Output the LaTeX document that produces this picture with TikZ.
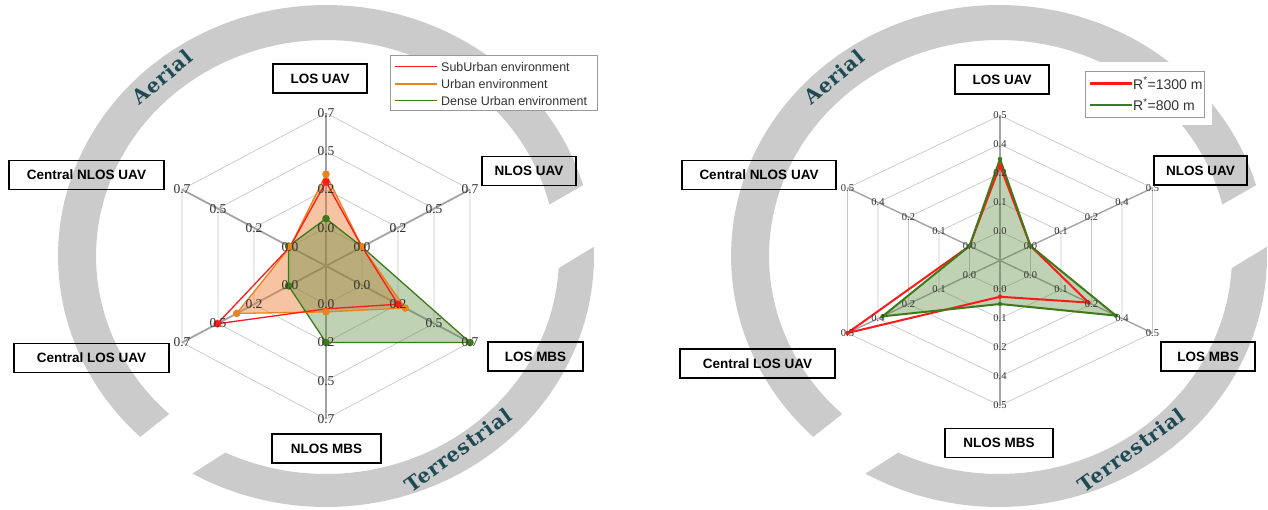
\documentclass[tikz,border=0pt]{standalone}
\usepackage{fontspec}
\setmainfont{Liberation Serif}
\setsansfont{Liberation Sans}
\newfontfamily\decofont[LetterSpace=4]{DejaVu Serif}
\definecolor{ringgray}{HTML}{CBCBCB}
\definecolor{tealtxt}{HTML}{1D4A55}
\definecolor{gridc}{HTML}{C8C8C8}
\definecolor{spokec}{HTML}{A3A3A3}
\definecolor{sred}{HTML}{FF1A1A}
\definecolor{sorange}{HTML}{E8841E}
\definecolor{sgreen}{HTML}{3F7A1A}
\definecolor{forange}{HTML}{ED7D31}
\definecolor{fgreen}{HTML}{5A8A3A}
\definecolor{ticktext}{HTML}{333333}
\tikzset{
  axisbox/.style={draw=black, line width=1.7pt, font=\sffamily\bfseries\fontsize{13.5}{16}\selectfont, inner sep=0pt, minimum height=29pt},
  gridline/.style={draw=gridc, line width=0.7pt},
  spoke/.style={draw=spokec, line width=1.8pt},
  tickL/.style={font=\fontsize{13.5}{15}\selectfont, text=ticktext, inner sep=0pt},
  tickR/.style={font=\fontsize{10.5}{12}\selectfont, text=ticktext, inner sep=0pt},
  ringname/.style={font=\decofont\bfseries\fontsize{20}{24}\selectfont, text=tealtxt, inner sep=0pt},
  legtext/.style={font=\sffamily\fontsize{12.5}{15}\selectfont, text=black!80, anchor=west, inner sep=0pt},
  legbox/.style={draw=black!40, line width=0.8pt, fill=white, inner sep=0pt},
}
\newcommand\ringpair[1]{%
  \fill[ringgray] plot[domain=16.4:226.1, samples=90] ({#1+268*cos(\x)},{256-251*sin(\x)})
     -- plot[domain=227:13.8, samples=90] ({#1+230*cos(\x)},{256-216*sin(\x)}) -- cycle;
  \fill[ringgray] plot[domain=240.1:362.1, samples=60] ({#1+268*cos(\x)},{256-251*sin(\x)})
     -- plot[domain=356.8:244.4, samples=60] ({#1+233*cos(\x)},{256-218*sin(\x)}) -- cycle;
}
\begin{document}
\begin{tikzpicture}[x={(1pt,0pt)}, y={(0pt,-1pt)}]
\useasboundingbox (0,0) rectangle (1268,510);
\fill[white] (0,0) rectangle (1268,510);

% ---------- rings ----------
\ringpair{326}
\ringpair{999}

% ---------- left radar ----------
\begin{scope}[shift={(326,266)}, x={(166.3pt,0pt)}, y={(0pt,153pt)}]
  \coordinate (Lc) at (0,0);
  \foreach \a in {90,30,-30,-90,-150,150} \coordinate (Le\a) at (\a:1);
  \foreach \f in {0.25,0.5,0.75,1}
    \draw[gridline] (90:\f) -- (30:\f) -- (-30:\f) -- (-90:\f) -- (-150:\f) -- (150:\f) -- cycle;
  \foreach \a in {90,30,-30,-90,-150,150} \draw[spoke] (Lc) -- (Le\a);
  % fills
  \fill[forange, fill opacity=.45] (90:.60) -- (30:.25) -- (-30:.55) -- (-90:.30) -- (-150:.62) -- (150:.25) -- cycle;
  \fill[fgreen, fill opacity=.38] (90:.31) -- (30:.25) -- (-30:1) -- (-90:.50) -- (-150:.26) -- (150:.26) -- cycle;
  % lines
  \draw[sgreen, line width=1.3pt, line join=round] (90:.31) -- (30:.25) -- (-30:1) -- (-90:.50) -- (-150:.26) -- (150:.26) -- cycle;
  \draw[sorange, line width=1.3pt, line join=round] (90:.60) -- (30:.25) -- (-30:.55) -- (-90:.30) -- (-150:.62) -- (150:.25) -- cycle;
  \draw[sred, line width=1.3pt, line join=round] (90:.55) -- (30:.25) -- (-30:.50) -- (-90:.28) -- (-150:.755) -- (150:.25) -- cycle;
  % markers
  \foreach \p in {90:.31, 30:.25, -30:1, -90:.50, -150:.26, 150:.26} \fill[sgreen] (\p) circle (3.8pt);
  \foreach \p in {90:.60, 30:.25, -30:.55, -90:.30, -150:.62, 150:.25} \fill[sorange] (\p) circle (3.8pt);
  \foreach \p in {90:.55, -30:.50, -150:.755} \fill[sred] (\p) circle (3.8pt);
  % tick labels
  \foreach \a in {90,30,-30,-90,-150,150}
    \foreach \f/\t [count=\i] in {0.25/0.0, 0.5/0.2, 0.75/0.5, 1/0.7}
      \node[tickL] (tL\a-\i) at (\a:\f) {\t};
\end{scope}

% ---------- right radar ----------
\begin{scope}[shift={(1000,260.5)}, x={(176.1pt,0pt)}, y={(0pt,145pt)}]
  \coordinate (Rc) at (0,0);
  \foreach \a in {90,30,-30,-90,-150,150} \coordinate (Re\a) at (\a:1);
  \foreach \f in {0.2,0.4,0.6,0.8,1}
    \draw[gridline] (90:\f) -- (30:\f) -- (-30:\f) -- (-90:\f) -- (-150:\f) -- (150:\f) -- cycle;
  \foreach \a in {90,30,-30,-90,-150,150} \draw[spoke, line width=1.4pt] (Rc) -- (Re\a);
  \fill[fgreen, fill opacity=.38] (90:.70) -- (30:.2) -- (-30:.76) -- (-90:.30) -- (-150:.77) -- (150:.2) -- cycle;
  \draw[sred, line width=2pt, line join=round] (90:.655) -- (30:.2) -- (-30:.58) -- (-90:.25) -- (-150:1) -- (150:.2) -- cycle;
  \draw[sgreen, line width=2pt, line join=round] (90:.70) -- (30:.2) -- (-30:.76) -- (-90:.30) -- (-150:.77) -- (150:.2) -- cycle;
  \foreach \p in {90:.655, -30:.58, -90:.25, -150:1} \fill[sred] (\p) circle (2.2pt);
  \foreach \p in {90:.70, 30:.2, -30:.76, -90:.30, -150:.77, 150:.2} \fill[sgreen] (\p) circle (2.2pt);
  \foreach \a in {90,30,-30,-90,-150,150}
    \foreach \f/\t [count=\i] in {0.2/0.0, 0.4/0.1, 0.6/0.2, 0.8/0.4, 1/0.5}
      \node[tickR] (tR\a-\i) at (\a:\f) {\t};
\end{scope}

% ---------- ring names ----------
\node[ringname, rotate=40] (Laerial) at (162,77) {Aerial};
\node[ringname, rotate=36] (Lterr) at (458,450) {Terrestrial};
\node[ringname, rotate=40] (Raerial) at (834,77) {Aerial};
\node[ringname, rotate=36] (Rterr) at (1131,450) {Terrestrial};

% ---------- axis boxes left ----------
\node[axisbox, minimum width=94pt] (LlosUAV) at (320,78.5) {LOS UAV};
\node[axisbox, minimum width=94pt] (LnlosUAV) at (529,171) {NLOS UAV};
\node[axisbox, minimum width=155pt] (LcnlosUAV) at (86.5,175) {Central NLOS UAV};
\node[axisbox, minimum width=155pt] (LclosUAV) at (91.5,358) {Central LOS UAV};
\node[axisbox, minimum width=95pt] (LlosMBS) at (535.5,356.5) {LOS MBS};
\node[axisbox, minimum width=109pt] (LnlosMBS) at (326.5,448.5) {NLOS MBS};

% ---------- axis boxes right ----------
\node[axisbox, minimum width=94pt] (RlosUAV) at (1002,79.5) {LOS UAV};
\node[axisbox, minimum width=93pt] (RnlosUAV) at (1200.5,170.5) {NLOS UAV};
\node[axisbox, minimum width=154pt] (RcnlosUAV) at (759,175) {Central NLOS UAV};
\node[axisbox, minimum width=155pt] (RclosUAV) at (757.5,363.5) {Central LOS UAV};
\node[axisbox, minimum width=94pt] (RlosMBS) at (1208,356.5) {LOS MBS};
\node[axisbox, minimum width=108pt] (RnlosMBS) at (999,443) {NLOS MBS};

% ---------- legend left ----------
\node[legbox, minimum width=207pt, minimum height=54.5pt] (Lleg) at (493.5,82.75) {};
\draw[sred, line width=1.3pt] (395,66.7) -- (437,66.7);
\draw[sorange, line width=1.3pt] (395,84) -- (437,84);
\draw[sgreen, line width=1.3pt] (395,100.7) -- (437,100.7);
\node[legtext] (Lleg1) at (441,66.7) {SubUrban environment};
\node[legtext] (Lleg2) at (441,84) {Urban environment};
\node[legtext] (Lleg3) at (441,100.7) {Dense Urban environment};

% ---------- legend right ----------
\fill[white] (1077,62) rectangle (1212,125);
\node[legbox, minimum width=119pt, minimum height=46pt] (Rleg) at (1144.5,94) {};
\draw[sred, line width=2.5pt] (1090,83.3) -- (1132,83.3);
\draw[sgreen, line width=2.5pt] (1090,105) -- (1132,105);
\node[legtext, font=\sffamily\fontsize{14}{16}\selectfont] (Rleg1) at (1133,83.3) {R\textsuperscript{*}=1300 m};
\node[legtext, font=\sffamily\fontsize{14}{16}\selectfont] (Rleg2) at (1133,105) {R\textsuperscript{*}=800 m};
\end{tikzpicture}
\end{document}
